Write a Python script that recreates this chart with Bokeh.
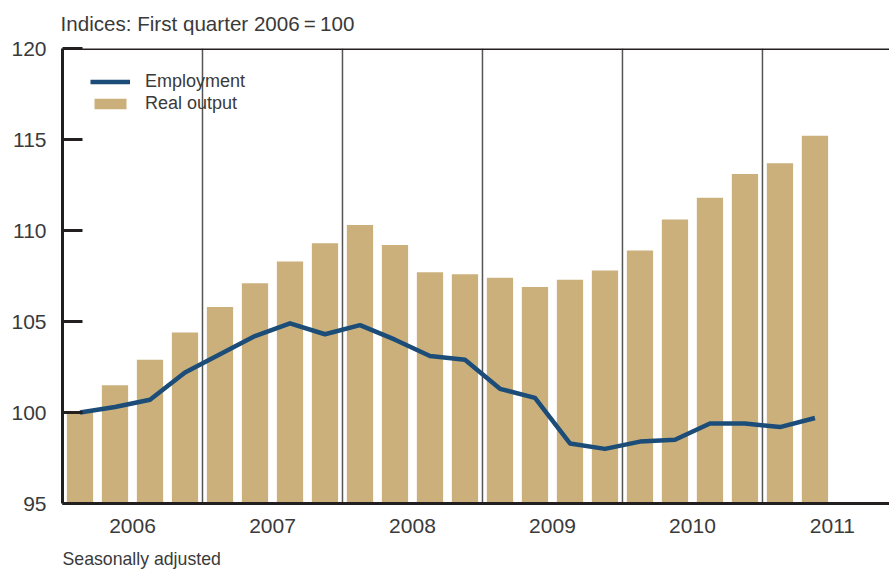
from bokeh.plotting import figure
from bokeh.models import (ColumnDataSource, Range1d, FixedTicker, Span, Title,
                          Legend, LegendItem)
from bokeh.embed import file_html
from bokeh.resources import INLINE

# ---- data ----
years = ["2006", "2007", "2008", "2009", "2010", "2011"]
quarters_per_year = 4
real_output = [100.0, 101.5, 102.9, 104.4,
               105.8, 107.1, 108.3, 109.3,
               110.3, 109.2, 107.7, 107.6,
               107.4, 106.9, 107.3, 107.8,
               108.9, 110.6, 111.8, 113.1,
               113.7, 115.2]
employment = [100.0, 100.3, 100.7, 102.2,
              103.2, 104.2, 104.9, 104.3,
              104.8, 104.0, 103.1, 102.9,
              101.3, 100.8, 98.3, 98.0,
              98.4, 98.5, 99.4, 99.4,
              99.2, 99.7]
y_ticks = [95, 100, 105, 110, 115, 120]

FONT = "Liberation Sans"
TXT = "#3a3a3a"
DARK = "#231f20"
BAR = "#cbb07c"
LINE = "#1b4d78"

n = len(real_output)
xpos = [i + 0.5 for i in range(n)]
src = ColumnDataSource(dict(x=xpos, out=real_output, emp=employment))

p = figure(width=889, height=581, output_backend="svg", toolbar_location=None,
           x_range=Range1d(0, 23.63), y_range=Range1d(95, 120),
           min_border_left=62, min_border_right=0, min_border_top=48,
           min_border_bottom=78)
p.outline_line_color = None
p.grid.grid_line_color = None
p.background_fill_color = "white"

bars = p.vbar(x="x", top="out", bottom=95, width=0.75, source=src,
              fill_color=BAR, line_color=None)

# year separators
bounds = [quarters_per_year * k for k in range(1, len(years))]
p.segment(x0=bounds, x1=bounds, y0=[95] * len(bounds), y1=[120] * len(bounds),
          line_color="#555555", line_width=1.5)

line = p.line(x="x", y="emp", source=src, line_color=LINE, line_width=4.5,
              line_join="round")

# top border
p.add_layout(Span(location=120, dimension="width", line_color=DARK, line_width=3))

# y axis
ya = p.yaxis[0]
ya.ticker = FixedTicker(ticks=y_ticks)
ya.axis_line_color = DARK
ya.axis_line_width = 3
ya.major_tick_in = 20
ya.major_tick_out = 0
ya.major_tick_line_width = 3
ya.major_tick_line_color = DARK
ya.minor_tick_line_color = None
ya.major_label_standoff = 16
ya.major_label_text_font = FONT
ya.major_label_text_font_size = "21px"
ya.major_label_text_color = TXT

# x axis
xa = p.xaxis[0]
centers = [quarters_per_year * k + quarters_per_year / 2 for k in range(len(years))]
xa.ticker = FixedTicker(ticks=centers)
xa.major_label_overrides = {c: y for c, y in zip(centers, years)}
xa.axis_line_color = DARK
xa.axis_line_width = 3
xa.major_tick_line_color = None
xa.minor_tick_line_color = None
xa.major_label_standoff = 9
xa.major_label_text_font = FONT
xa.major_label_text_font_size = "21px"
xa.major_label_text_color = TXT

# titles
p.add_layout(Title(text="Indices: First quarter 2006\u2009=\u2009100", align="left",
                   text_font=FONT, text_font_size="20.6px", text_color=TXT,
                   text_font_style="normal", standoff=23, offset=-2,
                   vertical_align="top"), "above")
p.add_layout(Title(text="Seasonally adjusted", align="left",
                   text_font=FONT, text_font_size="17.7px", text_color=TXT,
                   text_font_style="normal", standoff=23,
                   vertical_align="bottom"), "below")

legend = Legend(items=[LegendItem(label="Employment", renderers=[line]),
                       LegendItem(label="Real output", renderers=[bars])],
                location=(28, 389), orientation="vertical",
                glyph_width=40, glyph_height=13, label_height=22,
                label_standoff=15, spacing=0, padding=0, margin=0,
                label_text_font=FONT, label_text_font_size="18px",
                label_text_color=TXT, background_fill_alpha=0,
                border_line_color=None)
p.add_layout(legend)

open("out.html", "w").write(file_html(p, INLINE))
